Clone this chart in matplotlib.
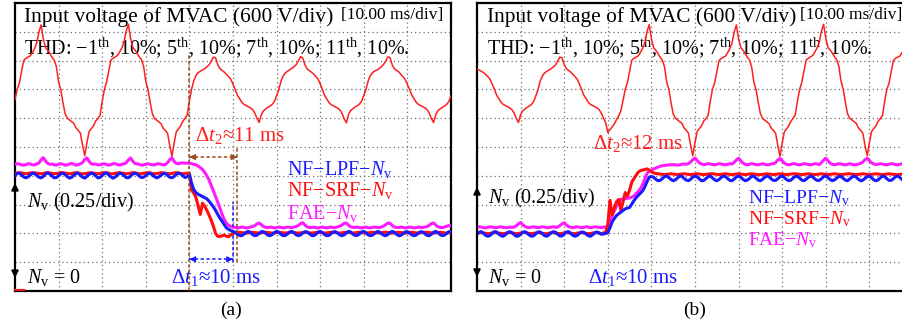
import numpy as np
import matplotlib
matplotlib.use("Agg")
import matplotlib.pyplot as plt

plt.rcParams['font.family'] = ['Liberation Serif', 'DejaVu Serif']
plt.rcParams['mathtext.fontset'] = 'custom'
plt.rcParams['mathtext.rm'] = 'Liberation Serif'
plt.rcParams['mathtext.it'] = 'Liberation Serif:italic'
plt.rcParams['mathtext.bf'] = 'Liberation Serif:bold'
plt.rcParams['mathtext.sf'] = 'Liberation Serif'

# ---------------------------------------------------------------- data
# Scope record: 10 ms/div horizontally, values below in vertical divisions.
# All traces are sampled every 0.5 ms over the 100 ms screen.
t_ms = np.linspace(0.0, 100.0, 201)

V_CENTER = 7.0          # screen division where the voltage trace is centred

# (a) input voltage of MVAC, divisions about the trace centre
v_in_a = [
    -0.35,
    0.00, 0.21, 0.62, 1.00, 1.08, 1.12, 1.16, 1.28, 1.42, 1.62, 2.00, 2.24, 1.75, 1.45, 1.36, 1.25, 1.12, 1.02, 0.78, 0.25,
    0.00, -0.46, -0.85, -1.00, -1.06, -1.12, -1.18, -1.34, -1.42, -1.52, -1.95, -2.30, -1.85, -1.46, -1.36, -1.27, -1.10, -1.02, -0.90, -0.42,
    0.00, 0.25, 0.64, 1.02, 1.08, 1.13, 1.18, 1.30, 1.44, 1.64, 2.02, 2.26, 1.78, 1.46, 1.37, 1.26, 1.13, 1.03, 0.80, 0.28,
    0.00, -0.45, -0.84, -1.01, -1.07, -1.13, -1.19, -1.35, -1.43, -1.53, -1.96, -2.32, -1.86, -1.47, -1.37, -1.26, -1.11, -1.00, -0.88, -0.40,
    0.00, 0.30, 0.48, 0.58, 0.63, 0.67, 0.72, 0.78, 0.85, 0.98, 1.12, 1.10, 0.86, 0.72, 0.66, 0.60, 0.52, 0.44, 0.35, 0.18,
    0.00, -0.20, -0.32, -0.44, -0.52, -0.56, -0.60, -0.64, -0.70, -0.82, -1.00, -1.15, -0.88, -0.74, -0.68, -0.62, -0.58, -0.52, -0.42, -0.22,
    0.00, 0.28, 0.47, 0.57, 0.63, 0.68, 0.73, 0.79, 0.86, 0.99, 1.14, 1.09, 0.85, 0.71, 0.65, 0.60, 0.53, 0.45, 0.36, 0.19,
    0.00, -0.21, -0.33, -0.45, -0.53, -0.57, -0.61, -0.65, -0.71, -0.83, -1.02, -1.16, -0.87, -0.73, -0.67, -0.61, -0.57, -0.51, -0.41, -0.21,
    0.00, 0.29, 0.48, 0.58, 0.64, 0.67, 0.72, 0.78, 0.86, 0.98, 1.13, 1.11, 0.86, 0.72, 0.66, 0.61, 0.52, 0.44, 0.34, 0.17,
    0.00, -0.20, -0.32, -0.44, -0.52, -0.56, -0.60, -0.64, -0.70, -0.82, -1.01, -1.15, -0.88, -0.74, -0.68, -0.62, -0.58, -0.52, -0.42, -0.22,
]

# (b) input voltage of MVAC
v_in_b = [
    0.70, 0.67, 0.63, 0.58, 0.52, 0.44, 0.35, 0.18,
    0.00, -0.20, -0.32, -0.44, -0.52, -0.56, -0.60, -0.64, -0.70, -0.82, -1.00, -1.15, -0.88, -0.74, -0.68, -0.62, -0.58, -0.52, -0.42, -0.22,
    0.00, 0.29, 0.47, 0.57, 0.63, 0.67, 0.72, 0.78, 0.85, 0.98, 1.12, 1.10, 0.86, 0.72, 0.66, 0.60, 0.52, 0.44, 0.35, 0.18,
    0.00, -0.20, -0.32, -0.44, -0.52, -0.56, -0.60, -0.64, -0.70, -0.82, -1.00, -1.15, -1.50, -1.40, -1.30, -1.20, -1.05, -0.92, -0.74, -0.38,
    0.00, 0.24, 0.63, 1.01, 1.08, 1.12, 1.17, 1.29, 1.43, 1.63, 2.01, 2.25, 1.76, 1.45, 1.36, 1.25, 1.12, 1.02, 0.79, 0.26,
    0.00, -0.46, -0.85, -1.00, -1.06, -1.12, -1.18, -1.34, -1.42, -1.52, -1.95, -2.30, -1.85, -1.46, -1.36, -1.27, -1.10, -1.02, -0.90, -0.42,
    0.00, 0.22, 0.62, 1.00, 1.07, 1.12, 1.16, 1.28, 1.42, 1.62, 2.00, 2.24, 1.75, 1.45, 1.36, 1.25, 1.12, 1.02, 0.78, 0.25,
    0.00, -0.45, -0.84, -1.01, -1.07, -1.13, -1.19, -1.35, -1.43, -1.53, -1.96, -2.32, -1.86, -1.47, -1.37, -1.26, -1.11, -1.00, -0.88, -0.40,
    0.00, 0.25, 0.64, 1.02, 1.08, 1.13, 1.18, 1.30, 1.44, 1.64, 2.02, 2.26, 1.78, 1.46, 1.37, 1.26, 1.13, 1.03, 0.80, 0.28,
    0.00, -0.46, -0.85, -1.00, -1.06, -1.12, -1.18, -1.34, -1.42, -1.52, -1.95, -2.30, -1.85, -1.46, -1.36, -1.27, -1.10, -1.02, -0.90, -0.42,
    0.00, 0.21, 0.62, 1.00, 1.08, 1.12, 1.16, 1.28, 1.42, 1.62, 2.00, 2.24, 1.75,
]

# (a) Nv estimates, screen divisions
nv_lpf_a = [
    4.01, 4.08, 4.09, 4.03, 3.96, 3.93, 3.96, 4.03, 4.09, 4.08, 4.01, 3.95, 3.93, 3.98, 4.06, 4.10, 4.06, 3.99, 3.93, 3.94,
    4.00, 4.07, 4.09, 4.04, 3.97, 3.92, 3.95, 4.02, 4.08, 4.09, 4.02, 3.95, 3.92, 3.98, 4.05, 4.09, 4.07, 4.00, 3.93, 3.94,
    4.01, 4.08, 4.10, 4.03, 3.96, 3.92, 3.96, 4.03, 4.09, 4.07, 4.01, 3.94, 3.93, 3.99, 4.06, 4.09, 4.06, 3.99, 3.94, 3.95,
    4.01, 4.07, 4.09, 4.03, 3.97, 3.93, 3.96, 4.02, 4.08, 4.08, 4.01, 3.95, 3.93, 3.98, 4.05, 4.09, 4.07, 4.00, 3.94, 3.97,
    4.04, 3.75, 3.52, 3.42, 3.36, 3.32, 3.28, 3.24, 3.20, 3.12, 3.02, 2.92, 2.80, 2.66, 2.53, 2.42, 2.30, 2.19, 2.14, 2.10,
    2.06, 2.04, 1.97, 1.93, 1.92, 1.97, 2.04, 2.07, 2.03, 1.96, 1.92, 1.94, 2.00, 2.06, 2.06, 2.00, 1.94, 1.92, 1.96, 2.03,
    2.07, 2.04, 1.97, 1.92, 1.93, 1.98, 2.05, 2.07, 2.02, 1.95, 1.92, 1.95, 2.01, 2.06, 2.05, 1.99, 1.93, 1.92, 1.97, 2.04,
    2.07, 2.03, 1.96, 1.92, 1.93, 1.99, 2.05, 2.06, 2.01, 1.95, 1.92, 1.95, 2.02, 2.07, 2.05, 1.98, 1.93, 1.93, 1.98, 2.05,
    2.07, 2.02, 1.95, 1.92, 1.94, 2.00, 2.06, 2.06, 2.00, 1.94, 1.92, 1.96, 2.03, 2.07, 2.04, 1.97, 1.92, 1.93, 1.99, 2.05,
    2.06, 2.01, 1.95, 1.92, 1.94, 2.01, 2.06, 2.05, 1.99, 1.93, 1.92, 1.97, 2.04, 2.07, 2.03, 1.96, 1.92, 1.94, 2.00, 2.06,
    2.05,
]
nv_srf_a = [
    4.09, 4.10, 4.11, 4.10, 4.08, 4.07, 4.08, 4.10, 4.11, 4.10, 4.09, 4.08, 4.07, 4.08, 4.10, 4.11, 4.10, 4.08, 4.07, 4.08,
    4.09, 4.11, 4.11, 4.09, 4.08, 4.07, 4.08, 4.10, 4.11, 4.10, 4.08, 4.07, 4.07, 4.09, 4.10, 4.11, 4.09, 4.08, 4.07, 4.08,
    4.10, 4.11, 4.10, 4.09, 4.07, 4.07, 4.09, 4.10, 4.11, 4.09, 4.08, 4.07, 4.08, 4.09, 4.11, 4.10, 4.09, 4.07, 4.07, 4.09,
    4.10, 4.11, 4.10, 4.08, 4.07, 4.08, 4.09, 4.11, 4.10, 4.09, 4.08, 4.07, 4.08, 4.10, 4.11, 4.10, 4.08, 4.07, 4.08, 4.09,
    4.08, 3.50, 3.40, 3.25, 2.95, 2.66, 3.05, 2.95, 2.80, 2.64, 2.46, 2.25, 2.00, 1.90, 1.89, 1.92, 1.94, 1.90, 1.89, 1.95,
    2.00, 2.02, 2.03, 2.04, 2.03, 2.02, 2.01, 2.02, 2.04, 2.04, 2.03, 2.02, 2.01, 2.02, 2.03, 2.04, 2.03, 2.02, 2.01, 2.02,
    2.03, 2.04, 2.03, 2.02, 2.01, 2.02, 2.03, 2.04, 2.03, 2.02, 2.01, 2.02, 2.03, 2.04, 2.03, 2.02, 2.01, 2.02, 2.03, 2.04,
    2.03, 2.02, 2.01, 2.02, 2.03, 2.04, 2.04, 2.03, 2.02, 2.01, 2.02, 2.03, 2.04, 2.03, 2.02, 2.01, 2.02, 2.03, 2.04, 2.03,
    2.02, 2.01, 2.02, 2.03, 2.04, 2.03, 2.02, 2.01, 2.02, 2.04, 2.04, 2.03, 2.02, 2.01, 2.02, 2.03, 2.04, 2.03, 2.02, 2.01,
    2.02, 2.03, 2.04, 2.03, 2.02, 2.01, 2.02, 2.03, 2.04, 2.04, 2.03, 2.02, 2.01, 2.02, 2.03, 2.04, 2.03, 2.02, 2.01, 2.02,
    2.03,
]
nv_fae_a = [
    4.40, 4.42, 4.41, 4.38, 4.37, 4.39, 4.42, 4.41, 4.38, 4.38, 4.41, 4.45, 4.56, 4.63, 4.52, 4.43, 4.40, 4.41, 4.38, 4.37,
    4.40, 4.42, 4.40, 4.37, 4.38, 4.41, 4.43, 4.40, 4.37, 4.39, 4.42, 4.46, 4.57, 4.62, 4.50, 4.42, 4.40, 4.41, 4.38, 4.38,
    4.41, 4.42, 4.39, 4.37, 4.39, 4.42, 4.42, 4.39, 4.37, 4.40, 4.42, 4.45, 4.55, 4.62, 4.51, 4.43, 4.41, 4.40, 4.37, 4.38,
    4.40, 4.42, 4.40, 4.38, 4.38, 4.41, 4.42, 4.40, 4.38, 4.39, 4.46, 4.56, 4.62, 4.50, 4.43, 4.42, 4.44, 4.45, 4.44, 4.44,
    4.44, 4.42, 4.40, 4.38, 4.34, 4.28, 4.22, 4.12, 4.00, 3.86, 3.66, 3.48, 3.28, 3.08, 2.88, 2.66, 2.48, 2.36, 2.28, 2.24,
    2.22, 2.21, 2.19, 2.20, 2.22, 2.21, 2.19, 2.20, 2.22, 2.24, 2.27, 2.33, 2.36, 2.30, 2.24, 2.21, 2.20, 2.22, 2.21, 2.19,
    2.20, 2.22, 2.21, 2.19, 2.20, 2.22, 2.21, 2.20, 2.22, 2.24, 2.28, 2.34, 2.37, 2.29, 2.23, 2.21, 2.20, 2.22, 2.20, 2.19,
    2.21, 2.22, 2.20, 2.19, 2.21, 2.22, 2.20, 2.20, 2.23, 2.25, 2.29, 2.35, 2.36, 2.28, 2.23, 2.21, 2.21, 2.22, 2.20, 2.19,
    2.21, 2.22, 2.20, 2.19, 2.21, 2.22, 2.21, 2.20, 2.22, 2.25, 2.30, 2.36, 2.35, 2.28, 2.22, 2.21, 2.20, 2.22, 2.21, 2.19,
    2.20, 2.22, 2.21, 2.19, 2.20, 2.22, 2.21, 2.20, 2.22, 2.24, 2.28, 2.34, 2.36, 2.29, 2.23, 2.21, 2.20, 2.22, 2.25, 2.27,
    2.26,
]

# (b) Nv estimates, screen divisions
nv_lpf_b = [
    1.98, 2.04, 2.06, 2.00, 1.93, 1.90, 1.93, 2.00, 2.06, 2.05, 1.98, 1.92, 1.90, 1.95, 2.03, 2.06, 2.03, 1.96, 1.90, 1.91,
    1.97, 2.04, 2.06, 2.01, 1.94, 1.90, 1.92, 1.99, 2.05, 2.05, 1.99, 1.92, 1.90, 1.95, 2.02, 2.06, 2.04, 1.97, 1.91, 1.91,
    1.98, 2.05, 2.06, 2.00, 1.93, 1.90, 1.93, 2.00, 2.05, 2.04, 1.98, 1.92, 1.90, 1.95, 2.02, 2.05, 2.02, 1.97, 1.98, 2.00,
    2.02, 2.20, 2.40, 2.52, 2.62, 2.68, 2.74, 2.80, 2.85, 2.88, 2.90, 3.02, 3.14, 3.24, 3.32, 3.40, 3.48, 3.62, 3.80, 3.95,
    3.98, 3.95, 3.88, 3.83, 3.84, 3.90, 3.97, 3.99, 3.94, 3.87, 3.83, 3.86, 3.93, 3.99, 3.98, 3.91, 3.85, 3.83, 3.88, 3.95,
    3.99, 3.96, 3.89, 3.83, 3.84, 3.90, 3.97, 3.99, 3.93, 3.86, 3.83, 3.87, 3.94, 3.99, 3.97, 3.90, 3.84, 3.83, 3.89, 3.96,
    3.99, 3.95, 3.88, 3.83, 3.85, 3.91, 3.98, 3.98, 3.92, 3.85, 3.83, 3.88, 3.95, 3.99, 3.96, 3.89, 3.84, 3.84, 3.90, 3.97,
    3.99, 3.94, 3.87, 3.83, 3.85, 3.92, 3.98, 3.98, 3.92, 3.85, 3.83, 3.88, 3.95, 3.99, 3.96, 3.89, 3.84, 3.84, 3.90, 3.97,
    3.99, 3.94, 3.87, 3.83, 3.86, 3.92, 3.98, 3.97, 3.91, 3.85, 3.83, 3.89, 3.96, 3.99, 3.95, 3.88, 3.83, 3.85, 3.91, 3.97,
    3.99, 3.93, 3.86, 3.83, 3.86, 3.93, 3.99, 3.97, 3.90, 3.84, 3.84, 3.90, 3.97, 3.99, 3.94, 3.87, 3.83, 3.85, 3.92, 3.98,
    3.98,
]
nv_srf_b = [
    2.01, 2.02, 2.03, 2.02, 2.00, 1.99, 2.00, 2.02, 2.03, 2.02, 2.01, 2.00, 1.99, 2.00, 2.02, 2.03, 2.02, 2.00, 1.99, 2.00,
    2.01, 2.03, 2.03, 2.01, 2.00, 1.99, 2.00, 2.02, 2.03, 2.02, 2.00, 1.99, 1.99, 2.01, 2.02, 2.03, 2.01, 2.00, 1.99, 2.00,
    2.02, 2.03, 2.02, 2.01, 1.99, 1.99, 2.01, 2.02, 2.03, 2.01, 2.00, 1.99, 2.00, 2.01, 2.03, 2.02, 2.01, 1.99, 2.02, 2.03,
    2.30, 3.15, 2.64, 2.90, 3.10, 3.18, 2.80, 3.10, 3.42, 3.30, 3.50, 3.78, 3.90, 4.02, 4.13, 4.18, 4.20, 4.22, 4.24, 4.20,
    4.14, 4.10, 4.08, 4.07, 4.06, 4.05, 4.04, 4.05, 4.06, 4.07, 4.06, 4.05, 4.04, 4.05, 4.06, 4.07, 4.06, 4.05, 4.04, 4.05,
    4.06, 4.07, 4.06, 4.05, 4.04, 4.05, 4.06, 4.07, 4.07, 4.06, 4.05, 4.04, 4.05, 4.06, 4.07, 4.06, 4.05, 4.04, 4.05, 4.06,
    4.07, 4.06, 4.05, 4.04, 4.05, 4.06, 4.07, 4.06, 4.05, 4.04, 4.04, 4.05, 4.06, 4.07, 4.06, 4.05, 4.04, 4.05, 4.06, 4.07,
    4.06, 4.05, 4.04, 4.05, 4.06, 4.07, 4.07, 4.06, 4.05, 4.04, 4.05, 4.06, 4.07, 4.06, 4.05, 4.04, 4.05, 4.06, 4.07, 4.06,
    4.05, 4.04, 4.05, 4.06, 4.07, 4.06, 4.05, 4.04, 4.05, 4.06, 4.07, 4.07, 4.06, 4.05, 4.04, 4.05, 4.06, 4.07, 4.06, 4.05,
    4.04, 4.05, 4.06, 4.07, 4.06, 4.05, 4.04, 4.05, 4.06, 4.07, 4.06, 4.05, 4.04, 4.04, 4.05, 4.06, 4.07, 4.06, 4.05, 4.04,
    4.05,
]
nv_fae_b = [
    2.21, 2.23, 2.22, 2.20, 2.19, 2.21, 2.23, 2.22, 2.20, 2.20, 2.22, 2.23, 2.21, 2.20, 2.20, 2.22, 2.21, 2.22, 2.26, 2.33,
    2.38, 2.30, 2.24, 2.21, 2.20, 2.22, 2.23, 2.21, 2.20, 2.21, 2.23, 2.22, 2.20, 2.20, 2.22, 2.23, 2.21, 2.22, 2.27, 2.33,
    2.37, 2.29, 2.24, 2.21, 2.20, 2.22, 2.23, 2.21, 2.20, 2.21, 2.23, 2.22, 2.20, 2.21, 2.23, 2.22, 2.21, 2.20, 2.22, 2.22,
    2.25, 2.45, 2.62, 2.78, 2.95, 3.10, 3.18, 3.20, 3.21, 3.22, 3.23, 3.26, 3.30, 3.38, 3.46, 3.56, 3.70, 3.90, 4.08, 4.16,
    4.20, 4.24, 4.27, 4.30, 4.33, 4.35, 4.36, 4.37, 4.38, 4.38, 4.39, 4.38, 4.37, 4.38, 4.40, 4.41, 4.40, 4.42, 4.48, 4.56,
    4.62, 4.53, 4.45, 4.41, 4.39, 4.40, 4.42, 4.41, 4.39, 4.38, 4.40, 4.42, 4.41, 4.39, 4.38, 4.40, 4.42, 4.41, 4.47, 4.55,
    4.61, 4.52, 4.44, 4.40, 4.38, 4.40, 4.42, 4.41, 4.39, 4.38, 4.40, 4.42, 4.40, 4.38, 4.39, 4.41, 4.42, 4.46, 4.55, 4.60,
    4.52, 4.44, 4.40, 4.38, 4.40, 4.42, 4.41, 4.39, 4.38, 4.40, 4.42, 4.41, 4.39, 4.38, 4.40, 4.42, 4.41, 4.39, 4.46, 4.54,
    4.61, 4.52, 4.44, 4.40, 4.38, 4.40, 4.42, 4.41, 4.39, 4.38, 4.40, 4.42, 4.40, 4.38, 4.39, 4.41, 4.43, 4.48, 4.56, 4.61,
    4.53, 4.45, 4.41, 4.39, 4.40, 4.42, 4.41, 4.39, 4.38, 4.40, 4.42, 4.41, 4.39, 4.38, 4.40, 4.42, 4.41, 4.39, 4.40, 4.42,
    4.41,
]

# transient markers (ms)
step_a = 40.0
dt2_a, dt1_a = 11, 10
dt2_b, dt1_b = 12, 10

for name, arr in [("v_in_a", v_in_a), ("v_in_b", v_in_b),
                  ("nv_lpf_a", nv_lpf_a), ("nv_srf_a", nv_srf_a), ("nv_fae_a", nv_fae_a),
                  ("nv_lpf_b", nv_lpf_b), ("nv_srf_b", nv_srf_b), ("nv_fae_b", nv_fae_b)]:
    if len(arr) != len(t_ms):
        raise ValueError(f"{name}: {len(arr)} samples")

# ---------------------------------------------------------------- figure
W, H = 902, 324
fig = plt.figure(figsize=(W / 100, H / 100), dpi=100)
fig.patch.set_facecolor("white")

C_VOLT = "#ff1e1e"
C_BLUE = "#1a1aff"
C_RED = "#ff0d0d"
C_MAG = "#ff1aff"
C_BROWN = "#9a4a1e"


def screen(left, top, width, height):
    ax = fig.add_axes([left / W, 1 - (top + height) / H, width / W, height / H])
    ax.set_xlim(0, 100)
    ax.set_ylim(0, 10)
    ax.set_xticks(np.arange(10, 100, 10))
    ax.set_yticks(np.arange(1, 10, 1))
    ax.tick_params(length=0, labelbottom=False, labelleft=False)
    ax.grid(True, linestyle=(0, (1, 2.4)), color="#6e6e6e", linewidth=0.9)
    ax.set_axisbelow(True)
    for s in ax.spines.values():
        s.set_linewidth(1.6)
        s.set_color("black")
    return ax


def label(ax, px, py, s, size, color="black", ha="left"):
    ax.text(px / W, 1 - py / H, s, transform=fig.transFigure, fontsize=size,
            color=color, ha=ha, va="center", zorder=1.5, clip_on=False)


def traces(ax, v, lpf, srf, fae):
    ax.plot(t_ms, V_CENTER + np.asarray(v), color=C_VOLT, lw=1.1, zorder=3)
    ax.plot(t_ms, fae, color=C_MAG, lw=2.2, zorder=4, solid_joinstyle="round")
    ax.plot(t_ms, srf, color=C_RED, lw=2.2, zorder=5, solid_joinstyle="round")
    ax.plot(t_ms, lpf, color=C_BLUE, lw=2.2, zorder=6, solid_joinstyle="round")


def spine_arrow(ax, y0, y1):
    ax.annotate("", xy=(0, y1), xytext=(0, y0), xycoords="data",
                arrowprops=dict(arrowstyle="<|-|>", color="black", lw=1.4,
                                mutation_scale=10, shrinkA=0, shrinkB=0),
                annotation_clip=False, zorder=7)


def dashed_span(ax, x0, x1, y, color):
    ax.plot([x0, x1], [y, y], color=color, lw=1.1, ls=(0, (2.2, 1.6)), zorder=7)
    for a, b in ((x0 + 0.6, x0), (x1 - 0.6, x1)):
        ax.annotate("", xy=(b, y), xytext=(a, y),
                    arrowprops=dict(arrowstyle="-|>", color=color, lw=0.8,
                                    mutation_scale=9, shrinkA=0, shrinkB=0), zorder=7)


ax_a = screen(15, 3, 436, 288)
ax_b = screen(477, 3, 436, 288)

traces(ax_a, v_in_a, nv_lpf_a, nv_srf_a, nv_fae_a)
traces(ax_b, v_in_b, nv_lpf_b, nv_srf_b, nv_fae_b)

# timing marks on screen (a)
ax_a.plot([step_a, step_a], [0, 8.26], color=C_BROWN, lw=1.1, ls=(0, (2.2, 1.6)), zorder=7)
ax_a.plot([step_a + dt2_a] * 2, [1.0, 5.0], color=C_BROWN, lw=1.1, ls=(0, (2.2, 1.6)), zorder=7)
ax_a.plot([step_a + dt1_a] * 2, [1.0, 3.1], color=C_BLUE, lw=1.1, ls=(0, (2.2, 1.6)), zorder=7)
dashed_span(ax_a, step_a, step_a + dt2_a, 4.65, C_BROWN)
dashed_span(ax_a, step_a, step_a + dt1_a, 1.1, C_BLUE)

spine_arrow(ax_a, 0.45, 3.75)
spine_arrow(ax_b, 0.49, 3.61)
ax_a.plot([0, 2], [0.04, 0.04], color="#e02020", lw=1.6, zorder=8, clip_on=False)

title = "Input voltage of MVAC (600 V/div)"
scale = "[10.00 ms/div]"
thd = r"THD: $-1^{\rm th}$, 10%; $5^{\rm th}$, 10%; $7^{\rm th}$, 10%; $11^{\rm th}$, 10%."
nv_scale = r"$N_{\rm v}$ (0.25/div)"
nv_zero = r"$N_{\rm v}$ = 0"
leg = [(r"NF−LPF−$N_{\rm v}$", C_BLUE), (r"NF−SRF−$N_{\rm v}$", C_RED), (r"FAE−$N_{\rm v}$", C_MAG)]

# screen (a) text
label(ax_a, 24, 17, title, 15.4)
label(ax_a, 341, 15, scale, 12.5)
label(ax_a, 24, 48, thd, 14.5)
label(ax_a, 195, 135, "Δ$t_2$≈%d ms" % dt2_a, 15, C_VOLT)
label(ax_a, 171, 277, "Δ$t_1$≈%d ms" % dt1_a, 15, C_BLUE)
for (s, c), py in zip(leg, (169, 191, 213)):
    label(ax_a, 287, py, s, 14.5, c)
label(ax_a, 27, 202, nv_scale, 14.5)
label(ax_a, 27, 277, nv_zero, 14.5)

# screen (b) text
label(ax_b, 487, 17, title, 15.4)
label(ax_b, 800, 15, scale, 12.5)
label(ax_b, 487, 48, thd, 14.5)
label(ax_b, 593, 143, "Δ$t_2$≈%d ms" % dt2_b, 15, C_VOLT)
label(ax_b, 588, 277, "Δ$t_1$≈%d ms" % dt1_b, 15, C_BLUE)
for (s, c), py in zip(leg, (198, 219, 240)):
    label(ax_b, 748, py, s, 14, c)
label(ax_b, 488, 198, nv_scale, 14.5)
label(ax_b, 488, 277, nv_zero, 14.5)

fig.text(231 / W, 1 - 310 / H, "(a)", fontsize=14, ha="center", va="center")
fig.text(695 / W, 1 - 310 / H, "(b)", fontsize=14, ha="center", va="center")

fig.savefig("out.png", dpi=100)
